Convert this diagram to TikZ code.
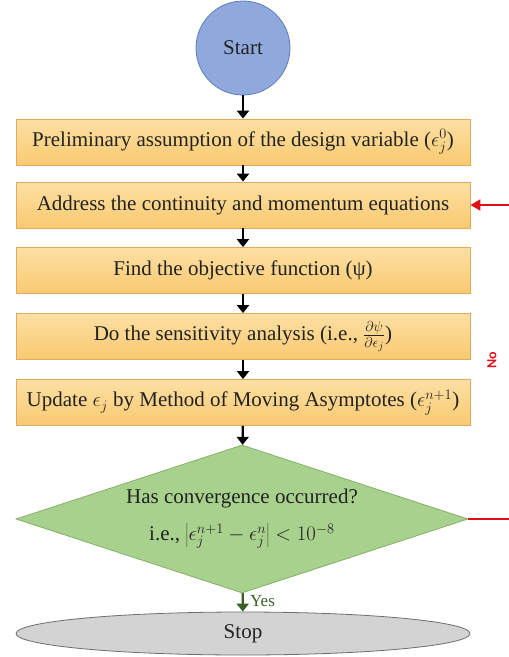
\documentclass[tikz,border=0pt]{standalone}
\usepackage{fontspec}
\setmainfont{Liberation Serif}
\newfontfamily\nofont{Carlito}
\usetikzlibrary{shapes.geometric,arrows.meta}
\definecolor{cfill}{HTML}{8FA9DC}
\definecolor{cdraw}{HTML}{5B7BC0}
\definecolor{btop}{HTML}{FDE0A4}
\definecolor{bbot}{HTML}{F9C970}
\definecolor{bdraw}{HTML}{E2AA5C}
\definecolor{dfill}{HTML}{A9D18E}
\definecolor{ddraw}{HTML}{84B067}
\definecolor{efill}{HTML}{D3D3D3}
\definecolor{edraw}{HTML}{6E6E6E}
\definecolor{txt}{HTML}{222222}
\definecolor{yesgreen}{HTML}{3B5E27}
\definecolor{fbred}{HTML}{E0101A}
\begin{document}
\begin{tikzpicture}[x=1pt,y=-1pt,
  mainfont/.style={font=\fontsize{21}{25}\selectfont, text=txt},
  startnode/.style={circle, draw=cdraw, fill=cfill, line width=0.8pt, minimum size=94pt, inner sep=0pt, mainfont},
  stepbox/.style={rectangle, draw=bdraw, top color=btop, bottom color=bbot, line width=0.8pt, minimum width=454pt, minimum height=46pt, inner sep=0pt, mainfont},
  decision/.style={diamond, aspect=3.05, draw=ddraw, fill=dfill, line width=0.8pt, minimum width=452pt, minimum height=148pt, inner sep=0pt, align=center, mainfont},
  stopnode/.style={ellipse, draw=edraw, fill=efill, line width=0.8pt, minimum width=454pt, minimum height=43pt, inner sep=0pt, mainfont},
  arr/.style={line width=2.2pt, -{Triangle[length=8pt,width=12pt]}},
  yesarr/.style={arr, draw=yesgreen},
  noline/.style={line width=2pt, draw=fbred},
  noarr/.style={noline, -{Triangle[length=10pt,width=11pt]}}
]
\useasboundingbox (0,0) rectangle (509,657);
\node[startnode] (start) at (243,48) {Start};
\node[stepbox] (b1) at (243,142) {Preliminary assumption of the design variable ($\epsilon_j^0$)};
\node[stepbox] (b2) at (243,205) {Address the continuity and momentum equations};
\node[stepbox] (b3) at (243,270.5) {Find the objective function (ψ)};
\node[stepbox] (b4) at (243,336.5) {Do the sensitivity analysis (i.e., $\frac{\partial\psi}{\partial\epsilon_j}$)};
\node[stepbox] (b5) at (243,402.5) {Update $\epsilon_j$ by Method of Moving Asymptotes ($\epsilon_j^{n+1}$)};
\node[decision] (dec) at (242,519) {Has convergence occurred?\\[12pt] i.e., $\left|\epsilon_j^{n+1}-\epsilon_j^{n}\right| < 10^{-8}$};
\node[stopnode] (stop) at (243,633.5) {Stop};
\draw[arr] (start) -- (b1);
\draw[arr] (b1) -- (b2);
\draw[arr] (b2) -- (b3);
\draw[arr] (b3) -- (b4);
\draw[arr] (b4) -- (b5);
\draw[arr] (b5) -- (dec);
\draw[yesarr] (dec) -- (stop) node[pos=0.45, right=3pt, text=yesgreen, font=\fontsize{17}{19}\selectfont] (yes) {Yes};
\coordinate (e1) at (509,519);
\coordinate (e2) at (509,205);
\draw[noline] (dec.east) -- (e1);
\draw[noarr] (e2) -- (b2.east);
\node[rotate=90, text=fbred, font=\nofont\bfseries\fontsize{14}{16}\selectfont] (no) at (492,360) {No};
\end{tikzpicture}
\end{document}
